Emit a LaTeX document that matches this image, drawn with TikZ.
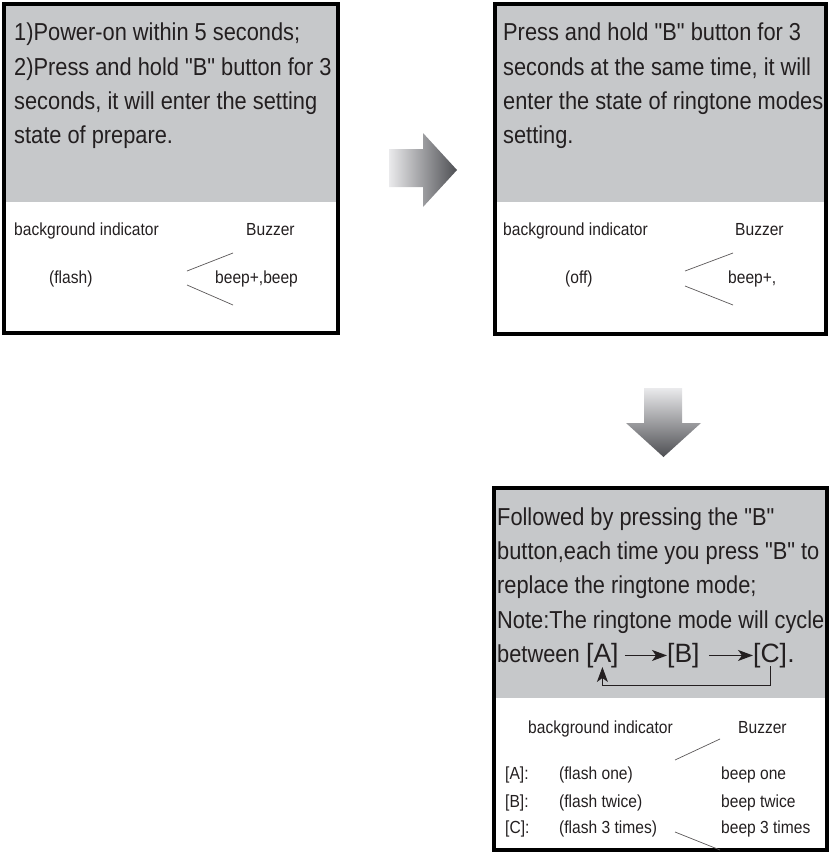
\documentclass[tikz,border=0pt]{standalone}
\usepackage{fontspec}
\setmainfont{Liberation Sans}[FakeStretch=0.89,Ligatures=TeXOff]
\newfontfamily\wideB{Liberation Sans}[Ligatures=TeXOff]
\usetikzlibrary{arrows.meta}
\definecolor{panel}{RGB}{198,200,202}
\definecolor{ink}{RGB}{35,31,32}
\definecolor{arrlight}{RGB}{234,234,236}
\definecolor{arrdark}{RGB}{78,79,83}
\begin{document}
\begin{tikzpicture}[x=1pt,y=-1pt,
  frame/.style={draw=black,line width=4pt},
  big/.style={anchor=base west,inner sep=0pt,font=\fontsize{24.5}{34.3}\selectfont,text=ink},
  small/.style={anchor=base west,inner sep=0pt,font=\fontsize{17.5}{20}\selectfont,text=ink},
  lbl/.style={inner sep=0pt,anchor=base west,font=\wideB\fontsize{26.5}{30}\selectfont,text=ink},
  tick/.style={draw=ink!75,line width=0.7pt},
  cyc/.style={draw=ink,line width=1.3pt,-{Stealth[length=15pt,width=11pt,inset=4pt]}},
]
\useasboundingbox (0,0) rectangle (828,852);

% ---------- box 1 ----------
\fill[panel] (4,4) rectangle (338,202);
\draw[frame] (4,4) rectangle (338,332.5);
\node[big] (t1a) at (14,40.7) {1)Power-on within 5 seconds;};
\node[big] (t1b) at (14,75) {2)Press and hold "B" button for 3};
\node[big] (t1c) at (14,109.3) {seconds, it will enter the setting};
\node[big] (t1d) at (14,143.6) {state of prepare.};
\node[small] (bg1) at (14,235) {background indicator};
\node[small] (bz1) at (246,235) {Buzzer};
\node[small] (fl1) at (49,283) {(flash)};
\node[small] (bp1) at (215,283) {beep+,beep};
\draw[tick] (187,271) -- (233,253);
\draw[tick] (187,285) -- (233,305);

% ---------- right arrow ----------
\shade[left color=arrlight,right color=arrdark]
  (389,149) -- (423,149) -- (423,133) -- (457,170) -- (423,207) -- (423,187) -- (389,187) -- cycle;

% ---------- box 2 ----------
\fill[panel] (494.7,4.3) rectangle (826,202);
\draw[frame] (494.7,4.3) rectangle (826,333.8);
\node[big] (t2a) at (503,40.7) {Press and hold "B" button for 3};
\node[big] (t2b) at (503,75) {seconds at the same time, it will};
\node[big] (t2c) at (503,109.3) {enter the state of ringtone modes};
\node[big] (t2d) at (503,143.6) {setting.};
\node[small] (bg2) at (503,235) {background indicator};
\node[small] (bz2) at (735,235) {Buzzer};
\node[small] (fl2) at (565,283) {(off)};
\node[small] (bp2) at (728,283) {beep+,};
\draw[tick] (685,271) -- (733,253);
\draw[tick] (685,286) -- (733,305);

% ---------- down arrow ----------
\shade[top color=arrlight,bottom color=arrdark]
  (644,388) -- (682,388) -- (682,423) -- (701,423) -- (663.5,457) -- (626,423) -- (644,423) -- cycle;

% ---------- box 3 ----------
\fill[panel] (493.8,488) rectangle (826.5,698);
\draw[frame] (493.8,488) rectangle (826.5,850);
\node[big] (t3a) at (497,525) {Followed by pressing the "B"};
\node[big] (t3b) at (497,559.3) {button,each time you press "B" to};
\node[big] (t3c) at (497,593.6) {replace the ringtone mode;};
\node[big] (t3d) at (497,628) {Note:The ringtone mode will cycle};
\node[big] (t3e) at (497,662.3) {between};
\node[lbl] (mA) at (586,662.3) {[A]};
\node[lbl] (mB) at (667,662.3) {[B]};
\node[lbl] (mC) at (753,662.3) {[C]};
\node[lbl] (dot) at (mC.base east) {.};
\draw[cyc] ([xshift=6pt]mA.east) -- (mB.west);
\draw[cyc] ([xshift=9pt]mB.east) -- (mC.west);
\draw[cyc,line width=1pt] ([yshift=2pt]mC.south) -- ++(0,19) -| ([yshift=1pt]mA.south);

\node[small] (bg3) at (528,733) {background indicator};
\node[small] (bz3) at (738,733) {Buzzer};
\node[small] (rA) at (505,779) {[A]:};
\node[small] (rB) at (505,807) {[B]:};
\node[small] (rC) at (505,833) {[C]:};
\node[small] (fA) at (559,779) {(flash one)};
\node[small] (fB) at (559,807) {(flash twice)};
\node[small] (fC) at (559,833) {(flash 3 times)};
\node[small] (sA) at (721,779) {beep one};
\node[small] (sB) at (721,807) {beep twice};
\node[small] (sC) at (721,833) {beep 3 times};
\draw[tick] (675,760) -- (720,739);
\draw[tick] (675,832) -- (720,850);
\end{tikzpicture}
\end{document}
